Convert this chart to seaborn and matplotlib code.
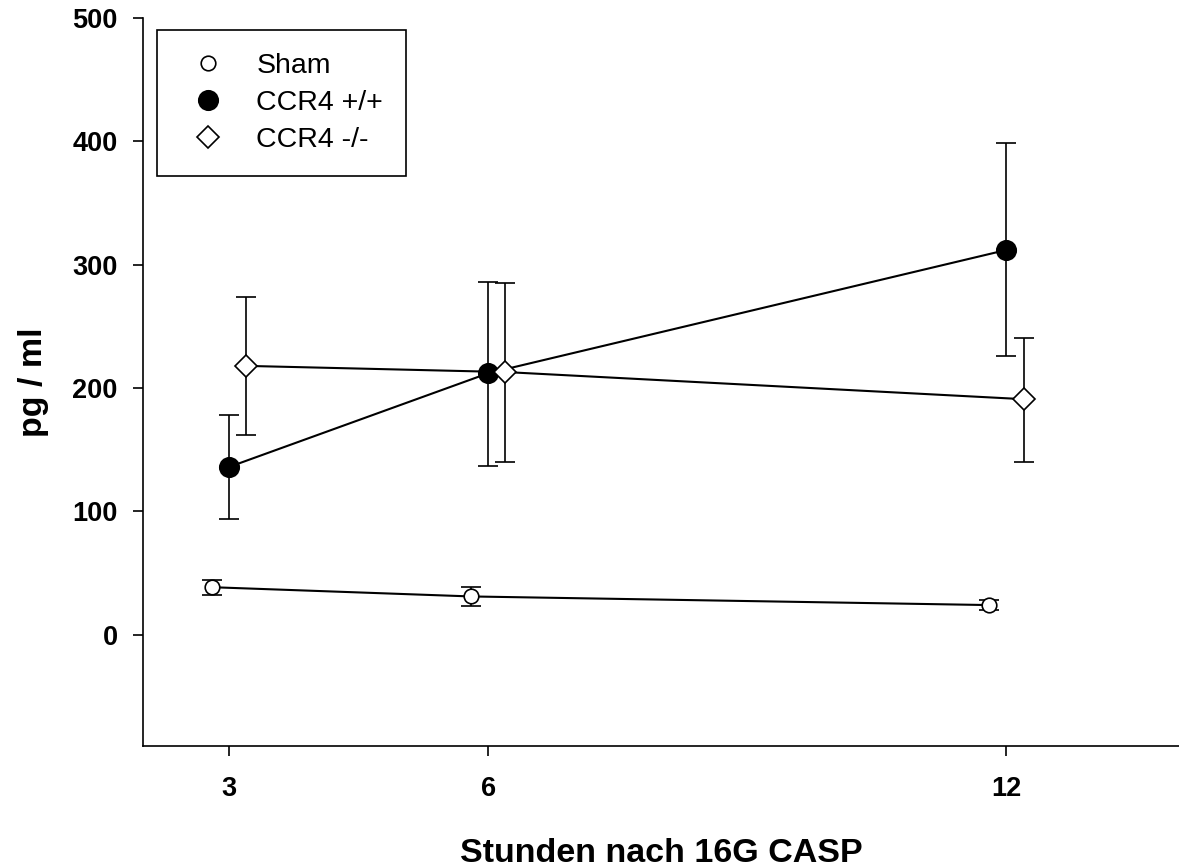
import pandas as pd
import seaborn as sns
import matplotlib.pyplot as plt
from matplotlib.lines import Line2D

# data (x positions are slightly offset per group)
sham_x = [2.8, 5.8, 11.8]
sham_y = [38.5, 31, 24]
sham_err = [6, 8, 4]

wt_x = [3, 6, 12]
wt_y = [136, 212, 312]
wt_lo = [94, 137, 226]
wt_hi = [178, 286, 399]

ko_x = [3.2, 6.2, 12.2]
ko_y = [218, 213, 191]
ko_lo = [162, 140, 140]
ko_hi = [274, 285, 241]

x_ticks = [3, 6, 12]
y_ticks = [0, 100, 200, 300, 400, 500]

sns.set_style("ticks")
plt.rcParams['font.family'] = ['Liberation Sans', 'DejaVu Sans']
plt.rcParams['text.color'] = 'black'
plt.rcParams['axes.labelcolor'] = 'black'

fig = plt.figure(figsize=(11.79, 8.67), dpi=100)
ax = fig.add_axes([0.121, 0.140, 0.879, 0.839])

groups = [
    ("Sham", sham_x, sham_y, [sham_err, sham_err], 'o', 'white', 10.5),
    ("CCR4 +/+", wt_x, wt_y,
     [[y - l for y, l in zip(wt_y, wt_lo)], [h - y for y, h in zip(wt_y, wt_hi)]],
     'o', 'black', 14),
    ("CCR4 -/-", ko_x, ko_y,
     [[y - l for y, l in zip(ko_y, ko_lo)], [h - y for y, h in zip(ko_y, ko_hi)]],
     'D', 'white', 11),
]

handles = []
for name, xs, ys, err, mk, face, ms in groups:
    df = pd.DataFrame({'x': xs, 'y': ys})
    ax.errorbar(xs, ys, yerr=err, fmt='none', ecolor='black', elinewidth=1.2,
                capsize=7, capthick=1.2, zorder=2)
    sns.lineplot(data=df, x='x', y='y', ax=ax, color='black', linewidth=1.5,
                 marker=mk, markerfacecolor=face, markeredgecolor='black',
                 markeredgewidth=1.2, markersize=ms, errorbar=None, zorder=3)
    handles.append(Line2D([], [], linestyle='none', marker=mk, markerfacecolor=face,
                          markeredgecolor='black', markeredgewidth=1.2,
                          markersize=ms, label=name))

ax.set_xlim(2, 14)
ax.set_ylim(-90, 500)
ax.set_xticks(x_ticks)
ax.set_yticks(y_ticks)
ax.tick_params(axis='both', direction='out', length=7, width=1.2, colors='black',
               labelsize=19.5)
ax.tick_params(axis='x', pad=15)
ax.tick_params(axis='y', pad=11)
for lbl in ax.get_xticklabels() + ax.get_yticklabels():
    lbl.set_fontweight('bold')

sns.despine(ax=ax)
for side in ['left', 'bottom']:
    ax.spines[side].set_linewidth(1.2)
    ax.spines[side].set_color('black')

ax.set_xlabel('Stunden nach 16G CASP', fontsize=24.5, fontweight='bold', labelpad=26)
ax.set_ylabel('pg / ml', fontsize=24.5, fontweight='bold', labelpad=17)

leg = ax.legend(handles=handles, loc='upper left', bbox_to_anchor=(0.0134, 0.984),
                fontsize=20.5, frameon=True, fancybox=False, edgecolor='black',
                framealpha=1, borderpad=0.8, labelspacing=0.4, handletextpad=0.7,
                borderaxespad=0)
leg.get_frame().set_linewidth(1.2)

fig.savefig('out.png', dpi=100)
